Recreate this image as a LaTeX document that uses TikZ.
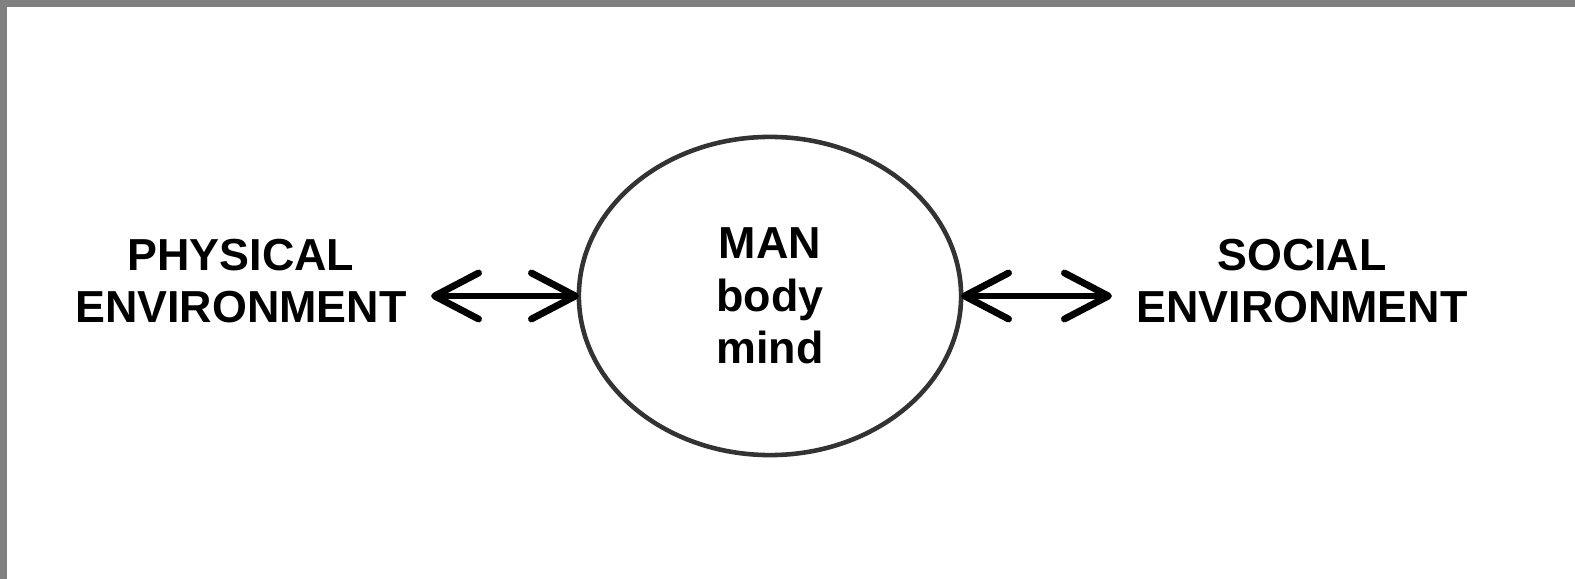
\documentclass[tikz,border=0pt]{standalone}
\usepackage{fontspec}
\setmainfont{Liberation Sans}
\usepackage{tikz}
\usetikzlibrary{arrows.meta}
\usetikzlibrary{shapes.geometric}
\definecolor{framegray}{gray}{.5}
\definecolor{ringgray}{HTML}{333333}

\begin{document}
\begin{tikzpicture}[ x=0.01cm, y=-0.01cm,
      every node/.style={color=black, font=\bfseries\fontsize{12.75}{15}\selectfont},
      label text/.style={align=center},
      person/.style={ellipse, draw=ringgray, line width=1.3pt, outer sep=0pt,
                     minimum width=3.82cm, minimum height=3.18cm, align=center},
      exchange/.style={ line width=1.95pt, line cap=round,
                        {Straight Barb[length=0.44cm, width=0.46cm, line join=round, line cap=round]}-{Straight Barb[length=0.44cm, width=0.46cm, line join=round, line cap=round]}}
      ]
      % frame
      \useasboundingbox (0,0) rectangle (1575,579);
      \fill[framegray] (0,0) rectangle (1575,7);
      \fill[framegray] (0,0) rectangle (7,579);

      % centre
      \node[person] (Man) at (770,296) {MAN\\body\\mind};

      % surroundings
      \node[label text] (Physical) at (241,281) {PHYSICAL\\ENVIRONMENT};
      \node[label text] (Social) at (1302,281) {SOCIAL\\ENVIRONMENT};

      % interaction
      \draw[exchange, shorten <=0.12cm] (Physical.east |- Man.west) -- (Man.west);
      \draw[exchange, shorten >=0.12cm] (Man.east) -- (Social.west |- Man.east);
\end{tikzpicture}
\end{document}
